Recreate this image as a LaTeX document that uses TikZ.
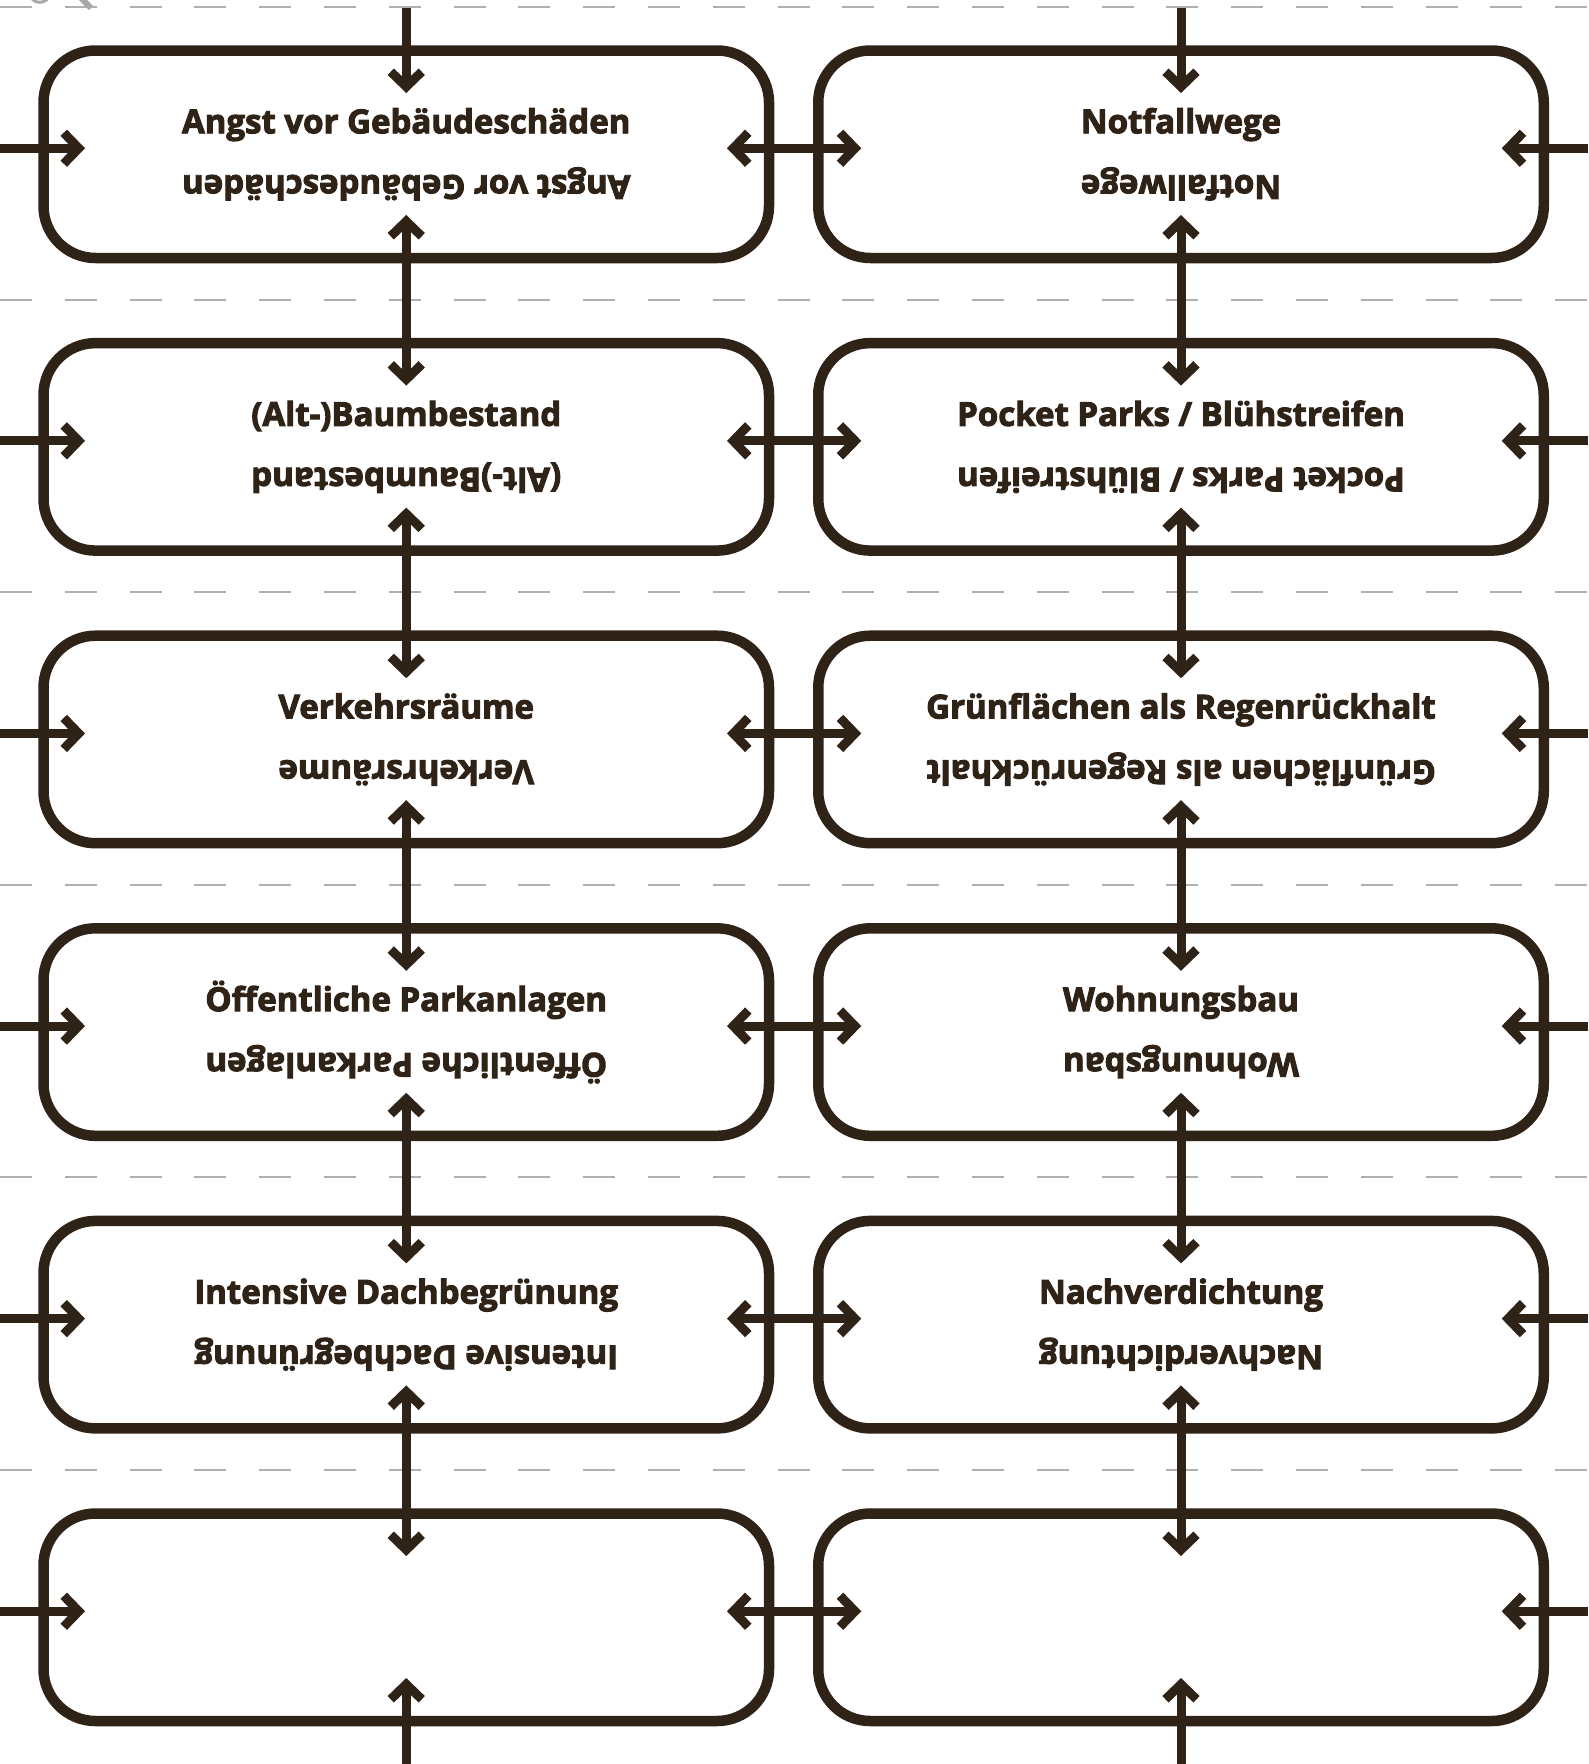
\documentclass[tikz,border=0pt]{standalone}
\usepackage{fontspec}
\setmainfont{Open Sans}[BoldFeatures={FakeBold=3}]
\usetikzlibrary{arrows.meta}
\definecolor{ink}{HTML}{2F2216}
\definecolor{guidegray}{HTML}{B0B0B0}
\definecolor{fraggray}{HTML}{A8A8A8}
\begin{document}
\begin{tikzpicture}[x=1pt,y=-1pt,
  box/.style={draw=ink, line width=10.5pt, rounded corners=52pt, minimum width=725.5pt, minimum height=207.5pt, outer sep=0pt, inner sep=0pt},
  lbl/.style={text=ink, font=\fontsize{33}{38}\selectfont\bfseries, anchor=base, inner sep=0pt},
  conn/.style={draw=ink, line width=9pt},
  chev/.tip={Straight Barb[length=15pt,width=31pt]},
  guide/.style={draw=guidegray, line width=2pt, dash pattern=on 32pt off 32.8pt},
  frag/.style={draw=fraggray}
]
\fill[white] (0,0) rectangle (1588,1764);
\useasboundingbox (0,0) rectangle (1588,1764);

% dashed guide lines
\foreach \k in {0,...,5}{
  \pgfmathsetmacro\gy{7+292.6*\k}
  \coordinate (G\k a) at (0,\gy);
  \coordinate (G\k b) at (1588,\gy);
  \draw[guide] (G\k a) -- (G\k b);
}

% cut-off fragments at top left
\draw[frag, line width=3pt] (31,-3) .. controls (34,4) and (45,4) .. (49,-3);
\draw[frag, line width=6pt] (79,-4) -- (91,8);

% boxes
\foreach \k in {0,...,5}{
  \pgfmathsetmacro\cy{154.25+292.6*\k}
  \node[box] (L\k) at (406.25,\cy) {};
  \node[box] (R\k) at (1181,\cy) {};
  \pgfmathsetmacro\ay{\cy-6}
  \coordinate (Lin\k) at (0,\ay);
  \coordinate (Rin\k) at (1588,\ay);
}

% labels
\foreach \k/\txt in {0/{Angst vor Gebäudeschäden}, 1/{(Alt-)Baumbestand}, 2/{Verkehrsräume}, 3/{Öffentliche Parkanlagen}, 4/{Intensive Dachbegrünung}}{
  \node[lbl] (L\k a) at ([yshift=21pt]L\k.center) {\txt};
  \node[lbl, rotate=180] (L\k b) at ([yshift=-21pt]L\k.center) {\txt};
}
\foreach \k/\txt in {0/{Notfallwege}, 1/{Pocket Parks / Blühstreifen}, 2/{Grünflächen als Regenrückhalt}, 3/{Wohnungsbau}, 4/{Nachverdichtung}}{
  \node[lbl] (R\k a) at ([yshift=21pt]R\k.center) {\txt};
  \node[lbl, rotate=180] (R\k b) at ([yshift=-21pt]R\k.center) {\txt};
}

% horizontal connectors
\foreach \k in {0,...,5}{
  \draw[conn,-{chev}] (Lin\k) -- ([xshift=41.5pt,yshift=6pt]L\k.west);
  \draw[conn,{chev}-{chev}] ([xshift=-42pt,yshift=6pt]L\k.east) -- ([xshift=43pt,yshift=6pt]R\k.west);
  \draw[conn,-{chev}] (Rin\k) -- ([xshift=-42pt,yshift=6pt]R\k.east);
}

% vertical connectors
\coordinate (Ltop) at (406.25,7.5);
\coordinate (Rtop) at (1181,7.5);
\coordinate (Lbot) at (406.25,1764);
\coordinate (Rbot) at (1181,1764);
\draw[conn,-{chev}] (Ltop) -- ([yshift=-42.5pt]L0.north);
\draw[conn,-{chev}] (Rtop) -- ([yshift=-42.5pt]R0.north);
\foreach \k/\j in {0/1,1/2,2/3,3/4,4/5}{
  \draw[conn,{chev}-{chev}] ([yshift=43pt]L\k.south) -- ([yshift=-42.5pt]L\j.north);
  \draw[conn,{chev}-{chev}] ([yshift=43pt]R\k.south) -- ([yshift=-42.5pt]R\j.north);
}
\draw[conn,-{chev}] (Lbot) -- ([yshift=43pt]L5.south);
\draw[conn,-{chev}] (Rbot) -- ([yshift=43pt]R5.south);
\end{tikzpicture}
\end{document}
